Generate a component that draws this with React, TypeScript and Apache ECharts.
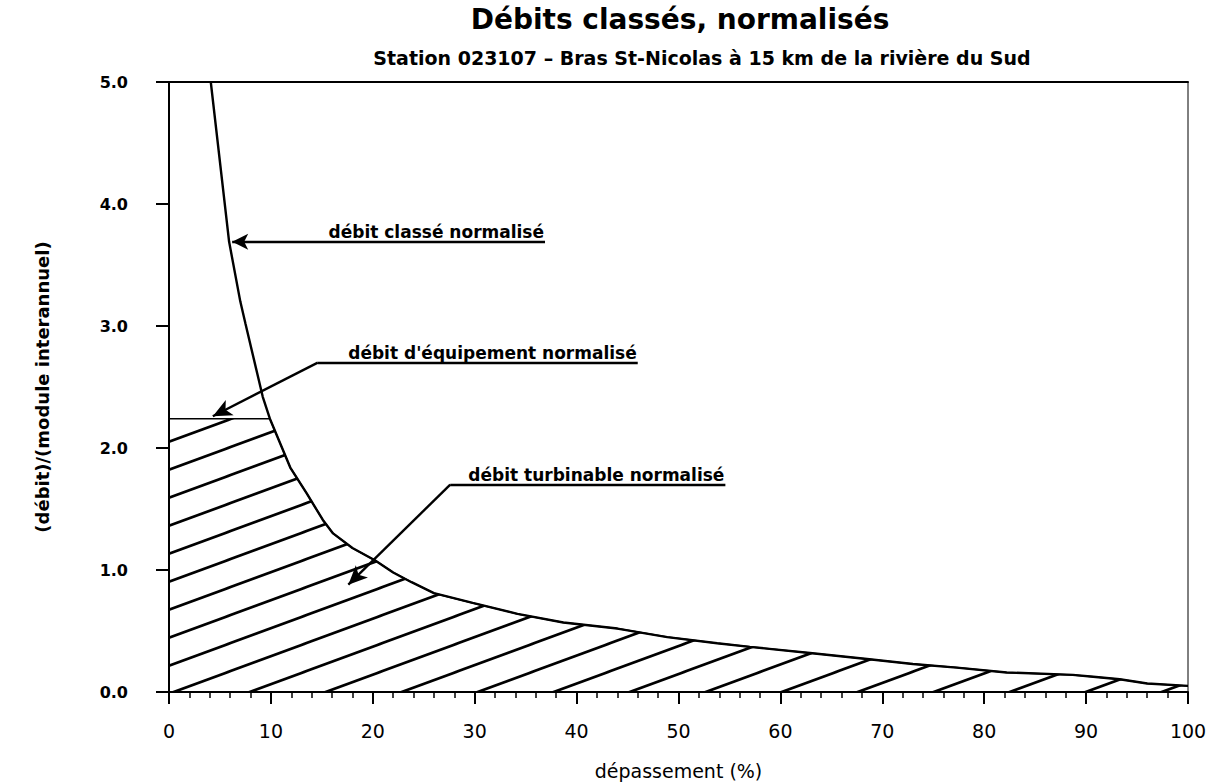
import React, { useEffect, useRef } from "react";
import * as echarts from "echarts";

// Courbe des débits classés, normalisés (débit / module interannuel)
const depassement = [
  4.1, 5.9, 7.0, 7.5, 9.2, 9.9, 11.9, 13.5, 15.1, 16.1, 18.0, 20.2, 22.0, 23.8,
  26.0, 29.8, 34.2, 38.7, 44.0, 48.9, 53.8, 57.0, 62.9, 68.5, 73.0, 77.3, 82.2,
  88.7, 90.7, 93.3, 96.0, 100,
];
const debitNormalise = [
  5.0, 3.69, 3.2, 3.02, 2.42, 2.24, 1.84, 1.63, 1.41, 1.3, 1.18, 1.08, 0.98,
  0.9, 0.81, 0.73, 0.64, 0.57, 0.52, 0.45, 0.4, 0.37, 0.32, 0.27, 0.23, 0.2,
  0.16, 0.14, 0.125, 0.105, 0.07, 0.05,
];

// Débit d'équipement normalisé
const debitEquipement = 2.24;

const xTicks = [0, 10, 20, 30, 40, 50, 60, 70, 80, 90, 100];
const yTicks = [0, 1, 2, 3, 4, 5];

const titre = "Débits classés, normalisés";
const sousTitre = "Station 023107 – Bras St-Nicolas à 15 km de la rivière du Sud";

// Annotations : pointe de flèche, coude du renvoi, fin du soulignement
const annotations = [
  { text: "débit classé normalisé", tip: [6.2, 3.69], elbow: null as number[] | null, end: [36.9, 3.69] },
  { text: "débit d'équipement normalisé", tip: [4.3, 2.26], elbow: [14.6, 2.7], end: [46.0, 2.7] },
  { text: "débit turbinable normalisé", tip: [17.6, 0.88], elbow: [27.6, 1.7], end: [54.6, 1.7] },
];

const FONT = '"DejaVu Sans", sans-serif';

// Motif de hachures obliques
const HW = 76;
const HH = 28;
const hatchSvg =
  `<svg xmlns="http://www.w3.org/2000/svg" width="${HW}" height="${HH}">` +
  `<g stroke="#000" stroke-width="2.6" stroke-linecap="square">` +
  `<line x1="0" y1="${HH}" x2="${HW}" y2="0"/>` +
  `<line x1="0" y1="0" x2="${HW}" y2="${-HH}"/>` +
  `<line x1="0" y1="${2 * HH}" x2="${HW}" y2="${HH}"/>` +
  `</g></svg>`;
const hatchUrl = "data:image/svg+xml;charset=utf-8," + encodeURIComponent(hatchSvg);

export default function App() {
  const ref = useRef<HTMLDivElement>(null);

  useEffect(() => {
    document.body.style.margin = "0";
    if (!ref.current) return;
    const chart = echarts.init(ref.current, null, { renderer: "svg" });

    const courbe = depassement.map((x, i) => [x, debitNormalise[i]]);
    const xEq = depassement[debitNormalise.indexOf(debitEquipement)];
    const turbinable = [
      [0, debitEquipement],
      ...courbe
        .filter((p) => p[0] >= xEq)
        .map((p) => [p[0], Math.min(p[1], debitEquipement)]),
    ];

    const markData: any[] = [];
    annotations.forEach((a) => {
      const lbl = {
        show: true,
        formatter: a.text,
        position: "insideEndTop",
        distance: 1,
        color: "#000",
        fontFamily: FONT,
        fontWeight: "bold",
        fontSize: 17,
      };
      if (a.elbow) {
        markData.push([
          { coord: a.tip, symbol: "arrow", symbolSize: [13, 19] },
          { coord: a.elbow, symbol: "none", label: { show: false } },
        ]);
        markData.push([
          { coord: a.elbow, symbol: "none" },
          { coord: a.end, symbol: "none", label: lbl },
        ]);
      } else {
        markData.push([
          { coord: a.tip, symbol: "arrow", symbolSize: [12, 16] },
          { coord: a.end, symbol: "none", label: lbl },
        ]);
      }
    });

    chart.setOption({
      animation: false,
      backgroundColor: "#fff",
      textStyle: { fontFamily: FONT },
      grid: {
        left: 169,
        right: 34,
        top: 82,
        bottom: 90,
        containLabel: false,
        outerBoundsMode: "none",
        show: true,
        borderColor: "#000",
        borderWidth: 1,
      },
      graphic: [
        {
          type: "text",
          x: 680,
          y: 19,
          style: {
            text: titre,
            fill: "#000",
            font: `bold 28px ${FONT}`,
            align: "center",
            verticalAlign: "middle",
            textAlign: "center",
            textVerticalAlign: "middle",
          },
        },
        {
          type: "text",
          x: 702,
          y: 58,
          style: {
            text: sousTitre,
            fill: "#000",
            font: `bold 19px ${FONT}`,
            align: "center",
            verticalAlign: "middle",
            textAlign: "center",
            textVerticalAlign: "middle",
          },
        },
      ],
      xAxis: [
        {
          type: "value",
          min: xTicks[0],
          max: xTicks[xTicks.length - 1],
          interval: 10,
          name: "dépassement (%)",
          nameLocation: "middle",
          nameGap: 69,
          nameTextStyle: { fontSize: 19, color: "#000", fontFamily: FONT },
          axisLine: { show: true, lineStyle: { color: "#000", width: 2 } },
          axisTick: { show: true, length: 12, lineStyle: { color: "#000", width: 2 } },
          minorTick: { show: true, splitNumber: 5, length: 6, lineStyle: { color: "#000", width: 1.5 } },
          axisLabel: { fontSize: 19, color: "#000", margin: 29, fontFamily: FONT },
          splitLine: { show: false },
        },
        {
          type: "value",
          position: "top",
          min: 0,
          max: 100,
          axisLine: { show: true, lineStyle: { color: "#000", width: 2 } },
          axisTick: { show: false },
          axisLabel: { show: false },
          splitLine: { show: false },
        },
      ],
      yAxis: {
        type: "value",
        min: yTicks[0],
        max: yTicks[yTicks.length - 1],
        interval: 1,
        name: "(débit)/(module interannuel)",
        nameLocation: "middle",
        nameGap: 118,
        nameTextStyle: { fontSize: 18, fontWeight: "bold", color: "#000", fontFamily: FONT },
        axisLine: { show: true, lineStyle: { color: "#000", width: 2 } },
        axisTick: { show: true, length: 13, lineStyle: { color: "#000", width: 2 } },
        axisLabel: {
          fontSize: 16,
          fontWeight: "bold",
          color: "#000",
          margin: 41,
          fontFamily: FONT,
          formatter: (v: number) => v.toFixed(1),
        },
        splitLine: { show: false },
      },
      series: [
        {
          name: "débit turbinable normalisé",
          type: "line",
          data: turbinable,
          showSymbol: false,
          symbol: "none",
          silent: true,
          z: 2,
          lineStyle: { color: "#000", width: 1.5 },
          areaStyle: {
            opacity: 1,
            color: { image: hatchUrl, repeat: "repeat", imageWidth: HW, imageHeight: HH },
          },
        },
        {
          name: "débit classé normalisé",
          type: "line",
          data: courbe,
          showSymbol: false,
          symbol: "none",
          silent: true,
          z: 3,
          lineStyle: { color: "#000", width: 2.4 },
          markLine: {
            silent: true,
            symbol: "none",
            animation: false,
            lineStyle: { color: "#000", width: 2.4, type: "solid" },
            label: { show: false },
            emphasis: { disabled: true },
            data: markData,
          },
        },
      ],
    });

    return () => chart.dispose();
  }, []);

  return <div ref={ref} style={{ width: 1222, height: 782 }} />;
}
